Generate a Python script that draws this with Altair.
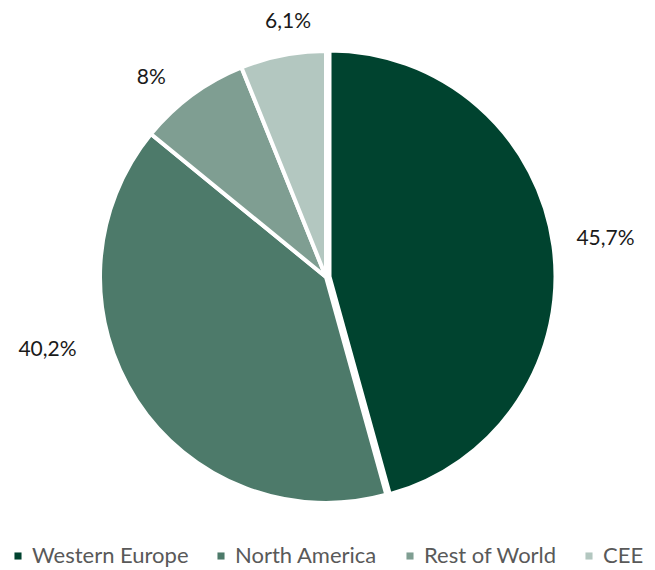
import math
import altair as alt
import pandas as pd

regions = ["Western Europe", "North America", "Rest of World", "CEE"]
shares = [45.7, 40.2, 8.0, 6.1]
labels = ["45,7%", "40,2%", "8%", "6,1%"]
colors = ["#00432F", "#4D7A6A", "#7F9E92", "#B3C7C0"]

df = pd.DataFrame({"region": regions, "share": shares, "label": labels,
                   "order": list(range(len(regions)))})

CX, CY, R = 318, 269, 226
FONT = "Lato"

theta_scale = alt.Scale(domain=[0, 100], range=[0, 2 * math.pi])

base = (
    alt.Chart(df)
    .transform_window(cum="sum(share)", sort=[alt.SortField("order")], frame=[None, 0])
    .transform_calculate(start="datum.cum - datum.share", mid="datum.cum - datum.share/2")
)

color = alt.Color(
    "region:N",
    scale=alt.Scale(domain=regions, range=colors),
    sort=regions,
    legend=alt.Legend(
        title=None, orient="none", direction="horizontal",
        legendX=-1, legendY=537,
        symbolType="square", symbolSize=50, symbolStrokeWidth=0,
        labelFont=FONT, labelFontSize=22, labelColor="#595959",
        labelOffset=3, columnPadding=21, labelLimit=300,
    ),
)

# explode offset for Western Europe slice (along its mid-angle, ~82 deg)
offsets = {"Western Europe": (3.5, -0.5)}

layers = []
for r in regions:
    ox, oy = offsets.get(r, (0, 0))
    layers.append(
        base.transform_filter(alt.datum.region == r)
        .mark_arc(outerRadius=R, stroke="white", strokeWidth=4)
        .encode(
            theta=alt.Theta("start:Q", scale=theta_scale),
            theta2="cum:Q",
            color=color,
            x=alt.value(CX + ox),
            y=alt.value(CY + oy),
        )
    )

label_pos = {
    "Western Europe": (280, 2, 0),
    "North America": (280, -44, -80),
    "Rest of World": (266, -17, 15),
    "CEE": (262, 12, 2),
}
for r in regions:
    rad, dx, dy = label_pos[r]
    layers.append(
        base.transform_filter(alt.datum.region == r)
        .mark_text(font=FONT, fontSize=21, color="#1a1a1a", align="center",
                   baseline="middle", dx=dx, dy=dy)
        .encode(
            theta=alt.Theta("mid:Q", scale=theta_scale),
            radius=alt.value(rad),
            text="label:N",
            x=alt.value(CX),
            y=alt.value(CY),
        )
    )

chart = (
    alt.layer(*layers)
    .properties(width=639, height=562, padding=0, autosize="none", background="white")
    .configure_view(stroke=None)
)

chart.save("out.html", embed_options={"renderer": "svg", "actions": False})
